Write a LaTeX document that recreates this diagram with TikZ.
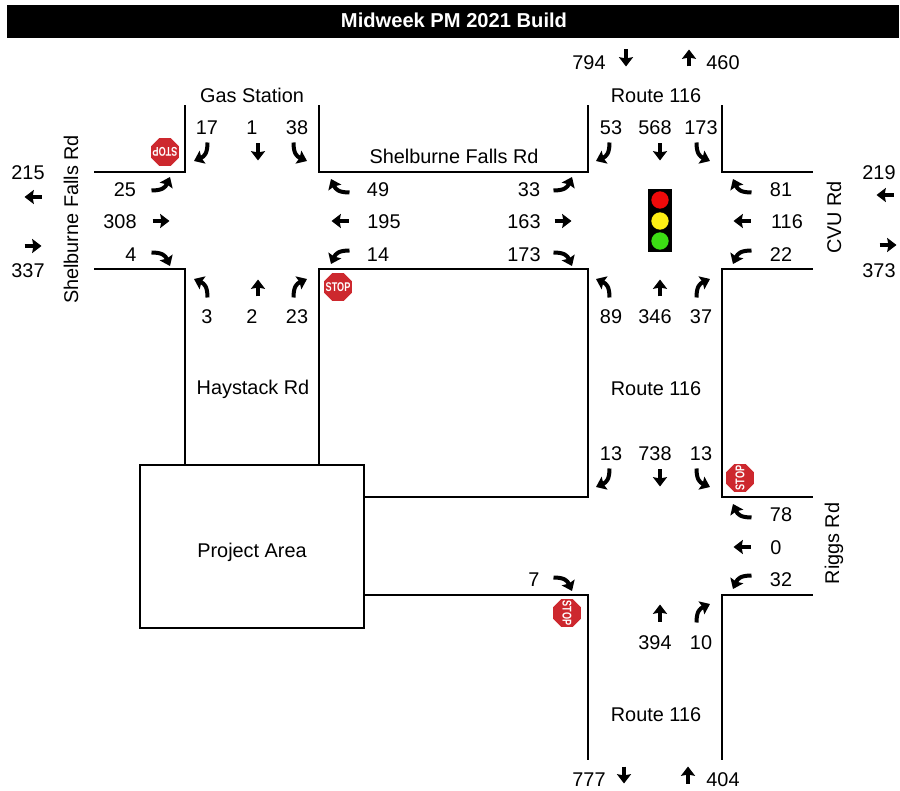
\documentclass[tikz,border=0pt]{standalone}
\usepackage{fontspec}
\setmainfont{Liberation Sans}
\usepackage{xcolor}
\usetikzlibrary{shapes.geometric, arrows.meta}
\definecolor{cStop}{RGB}{205,40,46}
\definecolor{cRed}{RGB}{240,10,10}
\definecolor{cYellow}{RGB}{255,240,20}
\definecolor{cGreen}{RGB}{60,220,20}
\newcommand{\stoptext}{\makebox[0pt]{\scalebox{0.72}[1]{STOP}}}
\tikzset{
	road/.style={line width=1.9pt, line cap=rect},
	vol/.style={font=\fontsize{14.9}{16}\selectfont, inner sep=0pt, yshift=0.4pt},
	stopsign/.style={regular polygon, regular polygon sides=8, minimum size=22.5pt, inner sep=0pt, fill=cStop, text=white, font=\fontsize{9.5}{10}\selectfont\bfseries},
	% movement arrows
	mv/.style={line width=3pt, -{Stealth[length=7pt, width=10.5pt, inset=1pt]}},
	thru/.pic={\draw[mv] (-8.5,0) -- (8.5,0);},
	leftturn/.pic={\draw[mv] (-9.5,5.5) .. controls (2,5.5) and (4.5,2) .. (9,-8);},
	rightturn/.pic={\draw[mv] (-9.5,-5.5) .. controls (2,-5.5) and (4.5,-2) .. (9,8);},
}

\begin{document}
\begin{tikzpicture}[x=0.75pt, y=-0.75pt]
	\useasboundingbox (0,0) rectangle (900,791);
	\fill[white] (0,0) rectangle (900,791);
	% title
	\node[fill=black, minimum width=669pt, minimum height=24.75pt, inner sep=0pt] (title) at (453,21.5) {};
	\node[text=white, inner sep=0pt, font=\fontsize{15.1}{16}\selectfont\bfseries] (titlelbl) at (454,20) {Midweek PM 2021 Build};
	% roads
	\draw[road] (95,172) -- (185,172) -- (185,106);
	\draw[road] (319,106) -- (319,172) -- (588,172) -- (588,106);
	\draw[road] (722,106) -- (722,172) -- (812,172);
	\draw[road] (95,269) -- (185,269) -- (185,465);
	\draw[road] (319,465) -- (319,269) -- (588,269) -- (588,497) -- (364,497);
	\draw[road] (812,269) -- (722,269) -- (722,497) -- (812,497);
	\draw[road] (812,595) -- (722,595) -- (722,759);
	\draw[road] (588,759) -- (588,595) -- (364,595);
	\node[draw=black, line width=1.5pt, fill=white, minimum width=168pt, minimum height=122pt, inner sep=0pt] (project) at (252,546.5) {};
	\node[vol] (projectlbl) at (252,553) {Project Area};
	% street names
	\node[vol] (gas) at (252,96) {Gas Station};
	\node[vol] (haystack) at (253,390) {Haystack Rd};
	\node[vol] (shelmid) at (454,157) {Shelburne Falls Rd};
	\node[vol, rotate=90] (shelw) at (71,220) {Shelburne Falls Rd};
	\node[vol, rotate=90] (cvu) at (834,218) {CVU Rd};
	\node[vol, rotate=90] (riggs) at (834,544) {Riggs Rd};
	\node[vol] (rtn) at (656,96) {Route 116};
	\node[vol] (rtm) at (656,389) {Route 116};
	\node[vol] (rts) at (656,715) {Route 116};
	% volumes
	\foreach \x/\y/\t [count=\i] in {207/128/17, 252/128/1, 297/128/38, 125/190/25, 120/222/308, 131/255/4,
		378/190/49, 384/222/195, 378/255/14, 207/317/3, 252/317/2, 297/317/23,
		529/190/33, 524/222/163, 524/255/173, 611/128/53, 655/128/568, 701/128/173,
		781/190/81, 787/222/116, 781/255/22, 611/317/89, 655/317/346, 701/317/37,
		611/454/13, 655/454/738, 701/454/13, 781/515/78, 776/548/0, 781/580/32,
		534/580/7, 655/643/394, 701/643/10,
		28/173/215, 28/271/337, 879/173/219, 879/271/373,
		589/63/794, 723/63/460, 589/780/777, 723/780/404}
		\node[vol] (v\i) at (\x,\y) {\t};
	% movements, heading given by the rotation
	\foreach \x/\y/\r in {258/152/-90, 161/221/0, 340/221/180, 258/288/90,
		660/152/-90, 563/221/0, 742/221/180, 660/288/90,
		660/478/-90, 742/547/180, 660/613/90,
		33/197/180, 33/246/0, 885/195/180, 888/245/0,
		626/58/-90, 689/58/90, 624/775/-90, 688/775/90}
		\pic[rotate=\r] at (\x,\y) {thru};
	\foreach \x/\y/\r in {299/152/-90, 161/185/0, 340/256/180, 202/288/90,
		702/152/-90, 563/185/0, 742/256/180, 604/288/90,
		702/478/-90, 742/581/180}
		\pic[rotate=\r] at (\x,\y) {leftturn};
	\foreach \x/\y/\r in {202/152/-90, 161/258/0, 340/187/180, 299/288/90,
		604/152/-90, 563/258/0, 742/187/180, 702/288/90,
		604/478/-90, 742/512/180, 563/583/0, 702/613/90}
		\pic[rotate=\r] at (\x,\y) {rightturn};
	% stop signs
	\node[stopsign] (stopa) at (165,152) {\rotatebox{180}{\stoptext}};
	\node[stopsign] (stopb) at (338,287) {\stoptext};
	\node[stopsign] (stopc) at (740,478) {\rotatebox{90}{\stoptext}};
	\node[stopsign] (stopd) at (567,613) {\rotatebox{-90}{\stoptext}};
	% signal
	\node[fill=black, minimum width=18pt, minimum height=47pt, inner sep=0pt] (signal) at (660,220.5) {};
	\node[circle, fill=cRed, minimum size=13pt, inner sep=0pt] (lampr) at (660,200) {};
	\node[circle, fill=cYellow, minimum size=13pt, inner sep=0pt] (lampy) at (660,221) {};
	\node[circle, fill=cGreen, minimum size=13pt, inner sep=0pt] (lampg) at (660,241) {};
\end{tikzpicture}
\end{document}
